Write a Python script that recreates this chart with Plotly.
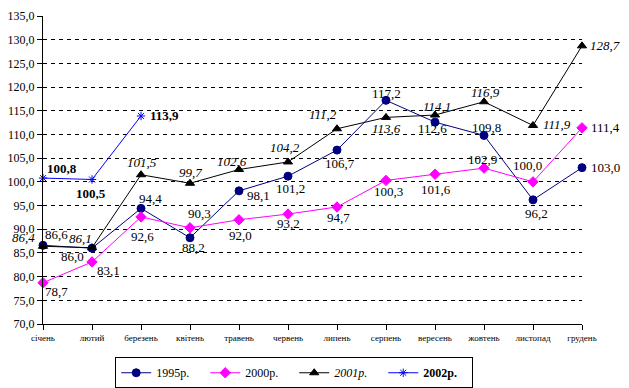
import plotly.graph_objects as go

months = ["січень", "лютий", "березень", "квітень", "травень", "червень",
          "липень", "серпень", "вересень", "жовтень", "листопад", "грудень"]
y1995 = [86.6, 86.0, 94.4, 88.2, 98.1, 101.2, 106.7, 117.2, 112.6, 109.8, 96.2, 103.0]
y2000 = [78.7, 83.1, 92.6, 90.3, 92.0, 93.2, 94.7, 100.3, 101.6, 102.9, 100.0, 111.4]
y2001 = [86.4, 86.1, 101.5, 99.7, 102.6, 104.2, 111.2, 113.6, 114.1, 116.9, 111.9, 128.7]
y2002 = [100.8, 100.5, 113.9]

# label offsets in pixels (dx right, dy down)
off1995 = [(13, -11), (-20, 8), (9, -10), (3, 10), (19, 5), (2, 12), (3, 13),
           (0, -7), (-3, 6), (2, -8), (3, 14), (23, 0)]
off2000 = [(13, 9), (16, 9), (1, 20), (9, -14), (1, 16), (0, 9), (1, 11),
           (2, 11), (1, 15), (-2, -9), (-6, -16), (23, 0)]
off2001 = [(-20, -9), (-12, -9), (1, -12), (0, -11), (-7, -8), (-3, -14), (-14, -14),
           (0, 11), (2, -9), (1, -9), (24, -1), (23, 0)]
off2002 = [(19, -10), (-1, 14), (23, 0)]

FONT = "Liberation Serif, Times New Roman, serif"
x = list(range(len(months)))

def fmt(v):
    return f"{v:.1f}".replace(".", ",")

fig = go.Figure()
series = [
    ("1995р.", y1995, "#000080", "circle", 8, off1995, "{}"),
    ("2000р.", y2000, "#FF00FF", "diamond", 8, off2000, "{}"),
    ("<i>2001р.</i>", y2001, "#000000", "triangle-up", 8, off2001, "<i>{}</i>"),
    ("<b>2002р.</b>", y2002, "#0000FF", "asterisk-open", 7, off2002, "<b>{}</b>"),
]
annotations = []
for name, ys, col, sym, size, offs, tmpl in series:
    xs = x[:len(ys)]
    fig.add_trace(go.Scatter(
        x=xs, y=ys, name=name, mode="lines+markers",
        line=dict(color=col, width=1),
        marker=dict(symbol=sym, size=size, color=col, line=dict(color=col, width=1)),
        cliponaxis=False,
    ))
    for xi, yi, (dx, dy) in zip(xs, ys, offs):
        annotations.append(dict(
            x=xi, y=yi, xref="x", yref="y", text=tmpl.format(fmt(yi)),
            showarrow=False, xshift=dx, yshift=-dy,
            font=dict(family=FONT, size=13, color="#000000"),
        ))

fig.update_layout(
    width=629, height=388,
    margin=dict(l=43, r=47, t=16, b=64, autoexpand=False),
    paper_bgcolor="white", plot_bgcolor="white",
    separators=", ",
    font=dict(family=FONT, color="#000000"),
    annotations=annotations,
    legend=dict(
        orientation="h", x=0.134, xanchor="left", y=-0.108, yanchor="top",
        bordercolor="#000000", borderwidth=1,
        font=dict(family=FONT, size=12),
        entrywidth=44, entrywidthmode="pixels",
        tracegroupgap=0, itemwidth=30,
    ),
    xaxis=dict(
        range=[0, 11], tickvals=x, ticktext=months,
        showgrid=False, zeroline=False,
        showline=True, linecolor="#000000", linewidth=1,
        ticks="outside", ticklen=5, tickcolor="#000000",
        tickfont=dict(family=FONT, size=9),
    ),
    yaxis=dict(
        range=[70, 135], dtick=5, tickformat=".1f",
        showgrid=True, gridcolor="#000000", gridwidth=1, griddash="4px,4px",
        zeroline=False,
        showline=True, linecolor="#000000", linewidth=1,
        ticks="outside", ticklen=5, tickcolor="#000000",
        tickfont=dict(family=FONT, size=12),
    ),
)
fig.write_html("out.html", config={"displayModeBar": False},
               post_script="document.body.style.margin='0';")
